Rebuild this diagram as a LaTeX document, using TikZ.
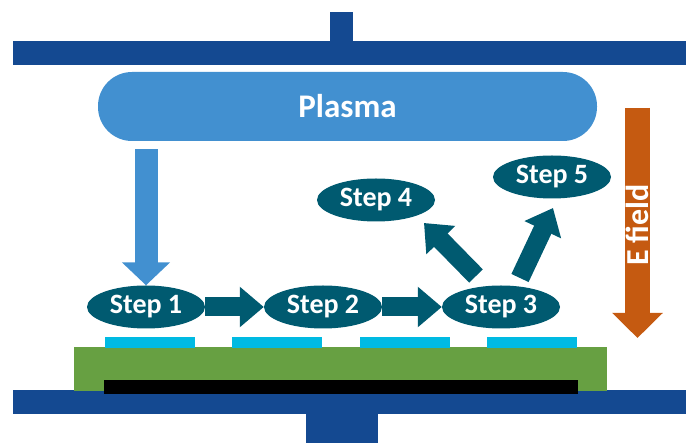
\documentclass[tikz,border=0pt]{standalone}
\usepackage{fontspec}
\setmainfont{Carlito}
\usetikzlibrary{shapes.geometric,arrows.meta,calc}
\definecolor{barblue}{RGB}{20,73,145}
\definecolor{plasmablue}{RGB}{66,144,208}
\definecolor{stepteal}{RGB}{0,90,112}
\definecolor{efieldorange}{RGB}{197,90,17}
\definecolor{layergreen}{RGB}{103,160,66}
\definecolor{padcyan}{RGB}{0,186,226}
\tikzset{
  stepnode/.style={ellipse, fill=stepteal, draw=none, minimum width=118pt, minimum height=43pt, inner sep=0pt,
    text=white, font=\bfseries\fontsize{28}{28}\selectfont},
  blockarrow/.style={draw=stepteal, line width=19pt, -{Triangle[length=24pt,width=39pt,fill=stepteal]}},
  plate/.style={fill=barblue, draw=none},
}
\begin{document}
\begin{tikzpicture}[x=1pt,y=-1pt]
\useasboundingbox (0,0) rectangle (686,443);
% top electrode
\fill[barblue] (330,12) rectangle (353,42);
\fill[barblue] (13,41) rectangle (686,65);
% bottom electrode
\fill[barblue] (306,413) rectangle (378,443);
\fill[barblue] (13,390) rectangle (686,414);
% green layer and black layer
\fill[layergreen] (74,347) rectangle (607,391);
\fill[black] (104,380) rectangle (578,394);
% pads
\foreach \xa in {105,232,360,487}{
  \fill[padcyan] (\xa,337) rectangle ({\xa+90},348);
}
% plasma
\node[fill=plasmablue, rounded corners=34pt, minimum width=499pt, minimum height=69pt, inner sep=0pt,
  text=white, font=\bfseries\fontsize{33}{33}\selectfont] (plasma) at (347.5,106.5) {Plasma};
% steps
\node[stepnode] (s1) at (146,307) {Step 1};
\node[stepnode] (s2) at (323,307) {Step 2};
\node[stepnode] (s3) at (501,307) {Step 3};
\node[stepnode] (s4) at (376,200) {Step 4};
\node[stepnode] (s5) at (552,177) {Step 5};
% plasma arrow
\coordinate (pa) at ($(plasma.south -| s1.north)+(0,8)$);
\draw[draw=plasmablue, line width=23pt, -{Triangle[length=23pt,width=47pt,fill=plasmablue]}] (pa) -- (s1.north);
% step arrows
\draw[blockarrow] (s1.east) -- (s2.west);
\draw[blockarrow] (s2.east) -- (s3.west);
\coordinate (b4) at (476,276);
\coordinate (t4) at (424,223);
\coordinate (b5) at (520,278);
\coordinate (t5) at (553,208);
\draw[blockarrow] (b4) -- (t4);
\draw[blockarrow] (b5) -- (t5);
% E field arrow
\coordinate (et) at (637.5,108);
\coordinate (eb) at (637.5,338);
\draw[draw=efieldorange, line width=25pt, -{Triangle[length=25pt,width=49pt,fill=efieldorange]}] (et) -- (eb);
\node[rotate=90, text=white, font=\bfseries\fontsize{32}{32}\selectfont, inner sep=0pt] (ef) at (637.5,225) {E field};
\end{tikzpicture}
\end{document}
